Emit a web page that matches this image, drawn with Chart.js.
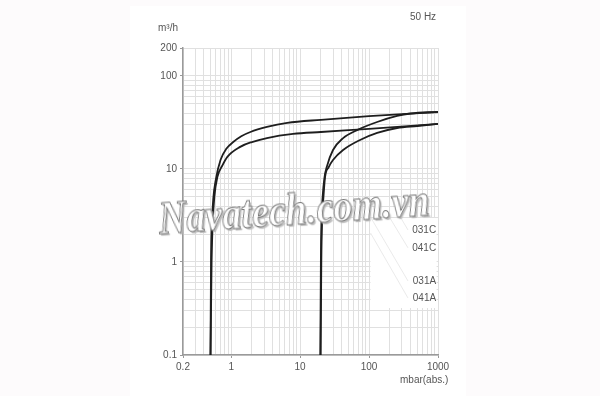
<!DOCTYPE html>
<html><head><meta charset="utf-8">
<script src="https://cdn.jsdelivr.net/npm/chart.js@4.4.1/dist/chart.umd.min.js"></script>
<style>
html,body{margin:0;padding:0;background:#fdfbfc;}
#wrap{position:relative;width:600px;height:396px;overflow:hidden;}
#panel{position:absolute;left:130px;top:6px;width:336px;height:390px;background:#fff;}
canvas{position:absolute;left:0;top:0;}
.t{position:absolute;font-family:"Liberation Sans",Arial,sans-serif;font-size:10px;color:#555;white-space:nowrap;line-height:12px;}
#wm{position:absolute;left:294px;top:209px;transform:translate(-50%,-50%) rotate(-4deg) scaleX(0.83);font-family:"Liberation Serif",serif;font-style:italic;font-weight:bold;font-size:46px;color:#fff;-webkit-text-stroke:1px #777;text-shadow:2px 2px 1px #bbb;white-space:nowrap;}
</style></head><body>
<div id="wrap">
<div id="panel"></div>
<canvas id="c" width="600" height="396"></canvas>
<div class="t" style="left:158px;top:22px">m³/h</div>
<div class="t" style="left:410px;top:11px">50 Hz</div>
<div class="t" style="left:400px;top:374px">mbar(abs.)</div>
<div id="wm">Navatech.com.vn</div>
</div>
<script>
// ---- data ----
const xTickLabels = [0.2, 1, 10, 100, 1000];
const yTickLabels = [0.1, 1, 10, 100, 200];
const xMin = 0.2, xMax = 1000, yMin = 0.1, yMax = 200;

const p041C = [0.5, 0.51, 0.53, 0.55, 0.6, 0.7, 0.85, 1.07, 1.4, 1.9, 3.3, 6.5, 20, 100, 1000];
const q041C = [0.08, 1, 3, 4.8, 7.8, 12.5, 16.5, 19.5, 22.5, 25, 28.3, 31.3, 33.8, 37, 41];
const p031C = [0.5, 0.52, 0.545, 0.57, 0.63, 0.75, 0.88, 1.35, 2, 3.3, 7.9, 20, 100, 1000];
const q031C = [0.08, 1, 3, 5, 8.2, 11, 13.5, 17.3, 19.5, 21.5, 23.8, 25, 27, 30.5];
const p041A = [19.6, 20.0, 20.5, 21.2, 22.5, 24.4, 30, 42, 67, 131, 255, 400, 1000];
const q041A = [0.08, 1, 3, 5, 8, 10.6, 16, 21.5, 26.2, 32, 37.2, 39.5, 41.2];
const p031A = [19.8, 20.3, 20.9, 21.8, 23, 26, 30, 42, 74, 131, 255, 500, 1000];
const q031A = [0.08, 1, 3, 5, 8.2, 10.5, 12.5, 16, 20.5, 24.4, 27.6, 29, 30.5];

const curveLabels = ['031C', '041C', '031A', '041A'];
const curveLabelY = [2.21, 1.42, 0.625, 0.41];
const curveLabelX = 940;
const labelBox = {x0: 105, x1: 955, y0: 0.32, y1: 2.97};
const leaderLines = [
  [[290, 2.97], [367, 2.21]],
  [[201, 2.97], [367, 1.42]],
  [[107, 2.97], [367, 0.625]],
  [[105, 2.05], [367, 0.41]]
];

// grid values (every 1..9 per decade)
function logGrid(min, max) {
  const out = [];
  for (let e = -2; e <= 4; e++) {
    for (let m = 1; m <= 9; m++) {
      const v = +(m * Math.pow(10, e)).toPrecision(6);
      if (v >= min * 0.9999 && v <= max * 1.0001) out.push(v);
    }
  }
  return out;
}
const isLabel = (list, v) => list.some(t => Math.abs(v - t) / t < 1e-6);

const mk = (p, q) => p.map((x, i) => ({x: x, y: q[i]}));
const lineStyle = {borderColor: '#1e1e1e', borderWidth: 1.8, pointRadius: 0, fill: false, cubicInterpolationMode: 'monotone'};

const annot = {
  id: 'annot',
  beforeDatasetsDraw(chart) {
    const {ctx, scales: {x, y}} = chart;
    ctx.save();
    const X0 = x.getPixelForValue(labelBox.x0), X1 = x.getPixelForValue(labelBox.x1);
    const Y0 = y.getPixelForValue(labelBox.y1), Y1 = y.getPixelForValue(labelBox.y0);
    ctx.fillStyle = '#ffffff';
    ctx.fillRect(X0, Y0, X1 - X0, Y1 - Y0);
    ctx.strokeStyle = '#e4e4e4';
    ctx.lineWidth = 0.8;
    leaderLines.forEach(l => {
      ctx.beginPath();
      ctx.moveTo(x.getPixelForValue(l[0][0]), y.getPixelForValue(l[0][1]));
      ctx.lineTo(x.getPixelForValue(l[1][0]), y.getPixelForValue(l[1][1]));
      ctx.stroke();
    });
    ctx.fillStyle = '#555';
    ctx.font = '10px "Liberation Sans", Arial, sans-serif';
    ctx.textAlign = 'right';
    ctx.textBaseline = 'middle';
    curveLabels.forEach((t, i) => {
      ctx.fillText(t, x.getPixelForValue(curveLabelX), y.getPixelForValue(curveLabelY[i]));
    });
    ctx.restore();
  }
};

Chart.defaults.font.family = '"Liberation Sans", Arial, sans-serif';
Chart.defaults.font.size = 10;
Chart.defaults.color = '#555';

new Chart(document.getElementById('c'), {
  type: 'line',
  data: {
    datasets: [
      Object.assign({label: '041C', data: mk(p041C, q041C)}, lineStyle),
      Object.assign({label: '031C', data: mk(p031C, q031C)}, lineStyle),
      Object.assign({label: '041A', data: mk(p041A, q041A)}, lineStyle),
      Object.assign({label: '031A', data: mk(p031A, q031A)}, lineStyle)
    ]
  },
  options: {
    responsive: false,
    animation: false,
    layout: {padding: {left: 130, top: 48, right: 162, bottom: 15}},
    plugins: {legend: {display: false}, tooltip: {enabled: false}},
    scales: {
      x: {
        type: 'logarithmic', min: xMin, max: xMax,
        afterBuildTicks: s => { s.ticks = logGrid(xMin, xMax).map(v => ({value: v})); },
        afterFit: s => { s.height = 26; },
        grid: {color: '#e0e0e0', lineWidth: 1, tickLength: 3,
          tickColor: c => (c.tick && isLabel(xTickLabels, c.tick.value)) ? '#999' : 'rgba(0,0,0,0)'},
        border: {color: '#9a9a9a', width: 1.5},
        ticks: {autoSkip: false, maxRotation: 0, padding: 3, color: '#555',
          callback: v => isLabel(xTickLabels, v) ? String(v) : ''}
      },
      y: {
        type: 'logarithmic', min: yMin, max: yMax,
        afterBuildTicks: s => { s.ticks = logGrid(yMin, yMax).map(v => ({value: v})); },
        afterFit: s => { s.width = 53; },
        grid: {color: '#e0e0e0', lineWidth: 1, tickLength: 3,
          tickColor: c => (c.tick && isLabel(yTickLabels, c.tick.value)) ? '#999' : 'rgba(0,0,0,0)'},
        border: {color: '#9a9a9a', width: 1.5},
        ticks: {autoSkip: false, padding: 3, color: '#555',
          callback: v => isLabel(yTickLabels, v) ? String(v) : ''}
      }
    }
  },
  plugins: [annot]
});
</script>
</body></html>
